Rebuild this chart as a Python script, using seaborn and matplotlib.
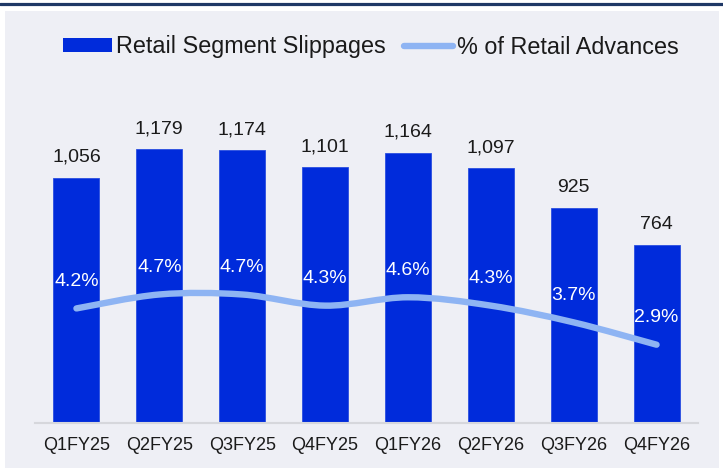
import matplotlib
matplotlib.use("Agg")
import matplotlib.pyplot as plt
import seaborn as sns
import pandas as pd
import numpy as np
from matplotlib.path import Path
from matplotlib.patches import PathPatch, Rectangle, Patch
from matplotlib.lines import Line2D

quarters = ["Q1FY25", "Q2FY25", "Q3FY25", "Q4FY25", "Q1FY26", "Q2FY26", "Q3FY26", "Q4FY26"]
slippages = [1056, 1179, 1174, 1101, 1164, 1097, 925, 764]
pct_advances = [4.2, 4.7, 4.7, 4.3, 4.6, 4.3, 3.7, 2.9]
bar_labels = ["1,056", "1,179", "1,174", "1,101", "1,164", "1,097", "925", "764"]
pct_labels = ["4.2%", "4.7%", "4.7%", "4.3%", "4.6%", "4.3%", "3.7%", "2.9%"]

BAR_COLOR = "#002BDB"
LINE_COLOR = "#8EB4F3"
BG = "#EEEFF5"

sns.set_theme(style="white")
plt.rcParams["font.family"] = ["Liberation Sans", "DejaVu Sans"]

fig = plt.figure(figsize=(7.23, 4.68), dpi=100)
fig.patch.set_facecolor("white")
# background panel
fig.patches.append(Rectangle((5 / 723, 0), 714 / 723, 1 - 10.5 / 468,
                             transform=fig.transFigure, facecolor=BG, edgecolor="none", zorder=-10))
# navy top rule
fig.add_artist(Line2D([0, 1], [1 - 3.5 / 468, 1 - 3.5 / 468], transform=fig.transFigure,
                      color="#1F3866", linewidth=2.3))

ax = fig.add_axes([35 / 723, 1 - 422.5 / 468, 663 / 723, 332.5 / 468])
ax.set_facecolor("none")

df = pd.DataFrame({"quarter": quarters, "slippages": slippages})
sns.barplot(data=df, x="quarter", y="slippages", color=BAR_COLOR, width=0.555,
            saturation=1, edgecolor="#2A4FE0", linewidth=0.6, ax=ax)
ax.set_xlim(-0.5, 7.5)
ax.set_ylim(0, 1434)
ax.set_xlabel("")
ax.set_ylabel("")
ax.set_yticks([])
for s in ["top", "right", "left"]:
    ax.spines[s].set_visible(False)
ax.spines["bottom"].set_color("#D6D7DC")
ax.spines["bottom"].set_linewidth(1.5)
ax.tick_params(axis="x", length=0, pad=10.5, labelsize=13, labelcolor="#1a1a1a")

for i, (v, lab) in enumerate(zip(slippages, bar_labels)):
    ax.annotate(lab, (i, v), xytext=(0, 11.5), textcoords="offset points",
                ha="center", va="baseline", fontsize=14, color="#1a1a1a")

ax2 = ax.twinx()
ax2.set_ylim(0.111, 12.03)
ax2.set_yticks([])
for s in ax2.spines.values():
    s.set_visible(False)

# smoothed line (Excel-style cubic Bezier through the points)
xs = np.arange(len(pct_advances), dtype=float)
ys = np.array(pct_advances, dtype=float)
n = len(xs)
verts = [(xs[0], ys[0])]
codes = [Path.MOVETO]
for i in range(n - 1):
    p0 = np.array([xs[max(i - 1, 0)], ys[max(i - 1, 0)]])
    p1 = np.array([xs[i], ys[i]])
    p2 = np.array([xs[i + 1], ys[i + 1]])
    p3 = np.array([xs[min(i + 2, n - 1)], ys[min(i + 2, n - 1)]])
    c1 = p1 + (p2 - p0) / 6
    c2 = p2 - (p3 - p1) / 6
    verts += [tuple(c1), tuple(c2), tuple(p2)]
    codes += [Path.CURVE4] * 3
patch = PathPatch(Path(verts, codes), facecolor="none", edgecolor=LINE_COLOR,
                  linewidth=4.6, capstyle="round", joinstyle="round")
ax2.add_patch(patch)

for i, (v, lab) in enumerate(zip(pct_advances, pct_labels)):
    ax2.annotate(lab, (i, v), xytext=(0, 16.2), textcoords="offset points",
                 ha="center", va="baseline", fontsize=14, color="white")

handles = [Patch(facecolor=BAR_COLOR, edgecolor="none"),
           Line2D([], [], color=LINE_COLOR, linewidth=4.6, solid_capstyle="round")]
fig.legend(handles, ["Retail Segment Slippages", "% of Retail Advances"],
           loc="center", bbox_to_anchor=(371 / 723, 1 - 47 / 468), ncol=2, frameon=False,
           fontsize=16.8, handlelength=2.1, handleheight=0.55, handletextpad=0.2,
           columnspacing=0.75, labelcolor="#1a1a1a")

fig.savefig("out.png", dpi=100, facecolor="white")
